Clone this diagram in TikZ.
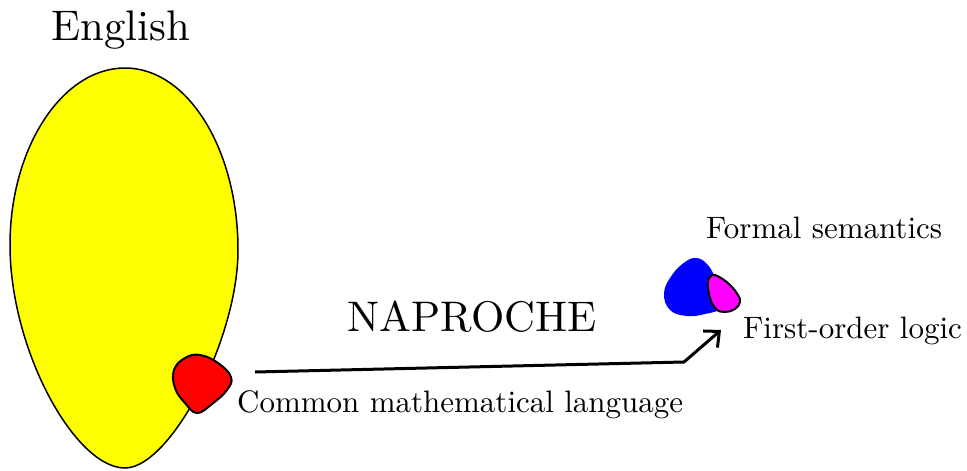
\documentclass[tikz,border=0pt]{standalone}
\usetikzlibrary{arrows.meta}
\definecolor{pyellow}{RGB}{255,255,0}
\definecolor{pred}{RGB}{255,0,0}
\definecolor{pblue}{RGB}{0,0,255}
\definecolor{pmagenta}{RGB}{255,0,255}
\newcommand{\lbltext}[1]{\scalebox{3.1}{\fontsize{10}{12}\selectfont #1}}
\newcommand{\bigtext}[1]{\scalebox{4.28}{\fontsize{10}{12}\selectfont #1}}
\begin{document}
\begin{tikzpicture}[x=1pt,y=-1pt,
  lbl/.style={inner sep=0pt},
  blobline/.style={draw=black,line width=1.5pt,line join=round}]
\useasboundingbox (0,0) rectangle (967,471);
% yellow region
\draw[blobline,fill=pyellow] (125,68) .. controls (188,68) and (238,150) .. (238,250)
  .. controls (238,340) and (170,468) .. (125,468)
  .. controls (75,468) and (10,350) .. (10,245)
  .. controls (10,148) and (62,68) .. (125,68) -- cycle;
% red region
\draw[line width=2pt,fill=pred] plot[smooth cycle,tension=0.7] coordinates
  {(174,370) (185,358) (200,355) (218,363) (231,377) (227,390) (212,404) (197,413) (185,403) (175,388)};
% blue region
\fill[pblue] plot[smooth cycle,tension=0.7] coordinates
  {(664,293) (672,275) (685,262) (696,258) (706,263) (714,275) (722,295) (722,308) (705,314) (687,316) (670,310)};
% magenta region
\draw[line width=2pt,fill=pmagenta] plot[smooth cycle,tension=0.7] coordinates
  {(708,283) (712,275) (721,278) (731,286) (738,295) (740,302) (735,309) (725,312) (716,309) (710,298)};
% texts
\node[lbl] (english) at (121,30) {\bigtext{English}};
\node[lbl] (naproche) at (472,317) {\bigtext{NAPROCHE}};
\node[lbl,anchor=west] (formal) at (706,228) {\lbltext{Formal semantics}};
\node[lbl,anchor=west] (fol) at (743,331) {\lbltext{First-order logic}};
\node[lbl,anchor=west] (cml) at (237,405) {\lbltext{Common mathematical language}};
% arrow
\coordinate (s) at (255,372);
\coordinate (b) at (684,362);
\coordinate (e) at (721,330);
\draw[line width=3pt,-{Straight Barb[length=12pt,width=22pt,line width=3pt]}] (s) -- (b) -- (e);
\end{tikzpicture}
\end{document}
